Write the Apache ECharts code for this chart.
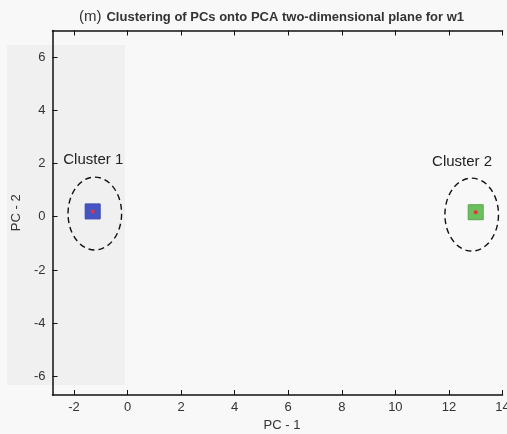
<!DOCTYPE html>
<html>
<head>
<meta charset="utf-8">
<script src="https://cdn.jsdelivr.net/npm/echarts@6/dist/echarts.min.js"></script>
<style>
  html, body { margin: 0; padding: 0; background: #f9f8f9; }
  #chart { width: 507px; height: 434px; }
</style>
</head>
<body>
<div id="chart"></div>
<script>
// PC-1 / PC-2 coordinates of the two groups of components
const clusterNames = ['Cluster 1', 'Cluster 2'];
const clusterColors = ['#4655c4', '#6cbf5e'];
const clusterPoints = [[-1.3, 0.2], [13.0, 0.17]];
// dashed ellipses around each cluster: [centre x, centre y, radius x, radius y]
const clusterEllipses = [[-1.22, 0.12, 1.0, 1.37], [12.85, 0.08, 1.0, 1.37]];
// where each cluster's name is written: [x, y]
const labelAnchors = [[-2.4, 2.12], [11.37, 2.08]];

const xTicks = [-2, 0, 2, 4, 6, 8, 10, 12, 14];
const yTicks = [-6, -4, -2, 0, 2, 4, 6];
const xRange = [-2.8, 14];
const yRange = [-6.7, 7];

const chart = echarts.init(document.getElementById('chart'));

const axisText = { color: '#333', fontSize: 13, fontFamily: 'Liberation Sans, Arial, sans-serif' };

chart.setOption({
  backgroundColor: '#f9f8f9',
  animation: false,
  title: {
    left: 74,
    top: 3,
    text: '{a|(m)} {b|Clustering of PCs onto PCA two-dimensional plane for w1}',
    textStyle: {
      rich: {
        a: { fontSize: 15, fontWeight: 'normal', color: '#333', fontFamily: 'Liberation Sans, Arial, sans-serif' },
        b: { fontSize: 13, fontWeight: 'bold', color: '#333', fontFamily: 'Liberation Sans Narrow, Liberation Sans, Arial, sans-serif' }
      }
    }
  },
  graphic: [{
    type: 'rect',
    z: -10,
    silent: true,
    shape: { x: 7, y: 45, width: 118, height: 340 },
    style: { fill: '#f1f0f1' }
  }],
  grid: { left: 52.5, right: 4.5, top: 30.5, bottom: 39, outerBoundsMode: 'none', containLabel: false },
  xAxis: [{
    type: 'value',
    min: xRange[0], max: xRange[1],
    name: 'PC - 1',
    nameLocation: 'middle',
    nameGap: 23,
    nameTextStyle: { ...axisText, padding: [0, 0, 0, 9] },
    axisLine: { show: true, onZero: false, lineStyle: { color: '#111', width: 1.5 } },
    axisTick: { show: true, inside: true, length: 5, customValues: xTicks, lineStyle: { color: '#111' } },
    axisLabel: { customValues: xTicks, margin: 6, ...axisText },
    splitLine: { show: false }
  }, {
    type: 'value',
    position: 'top',
    min: xRange[0], max: xRange[1],
    axisLine: { show: true, onZero: false, lineStyle: { color: '#111', width: 1.5 } },
    axisTick: { show: true, inside: true, length: 5, customValues: xTicks, lineStyle: { color: '#111' } },
    axisLabel: { show: false },
    splitLine: { show: false }
  }],
  yAxis: [{
    type: 'value',
    min: yRange[0], max: yRange[1],
    name: 'PC - 2',
    nameLocation: 'middle',
    nameGap: 28,
    nameRotate: 90,
    nameTextStyle: axisText,
    axisLine: { show: true, onZero: false, lineStyle: { color: '#111', width: 1.5 } },
    axisTick: { show: true, inside: true, length: 5, customValues: yTicks, lineStyle: { color: '#111' } },
    axisLabel: { customValues: yTicks, margin: 7, ...axisText },
    splitLine: { show: false }
  }],
  series: [
    {
      type: 'custom',
      name: 'ellipses',
      z: 3,
      data: clusterEllipses,
      renderItem: function (params, api) {
        const c = api.coord([api.value(0), api.value(1)]);
        const s = api.size([api.value(2), api.value(3)]);
        return {
          type: 'ellipse',
          shape: { cx: c[0], cy: c[1], rx: s[0], ry: s[1] },
          style: { fill: 'none', stroke: '#111', lineWidth: 1.4, lineDash: [6, 4] }
        };
      }
    },
    {
      type: 'custom',
      name: 'labels',
      z: 3,
      data: labelAnchors.map((p, i) => [p[0], p[1], i]),
      renderItem: function (params, api) {
        const c = api.coord([api.value(0), api.value(1)]);
        return {
          type: 'text',
          style: {
            x: c[0], y: c[1],
            text: clusterNames[api.value(2)],
            fill: '#222',
            fontSize: 15,
            fontFamily: 'Liberation Sans, Arial, sans-serif',
            align: 'left',
            verticalAlign: 'middle'
          }
        };
      }
    },
    {
      type: 'scatter',
      name: 'clusters',
      z: 4,
      symbol: 'rect',
      symbolSize: 15,
      data: clusterPoints.map((p, i) => ({
        value: p,
        itemStyle: { color: clusterColors[i], opacity: 1, borderColor: i === 0 ? '#3a48b0' : '#58a84c', borderWidth: 1 }
      }))
    },
    {
      type: 'scatter',
      name: 'centres',
      z: 5,
      symbol: 'circle',
      symbolSize: 4,
      itemStyle: { color: '#e8303a', opacity: 1 },
      data: clusterPoints
    }
  ]
});
</script>
</body>
</html>
